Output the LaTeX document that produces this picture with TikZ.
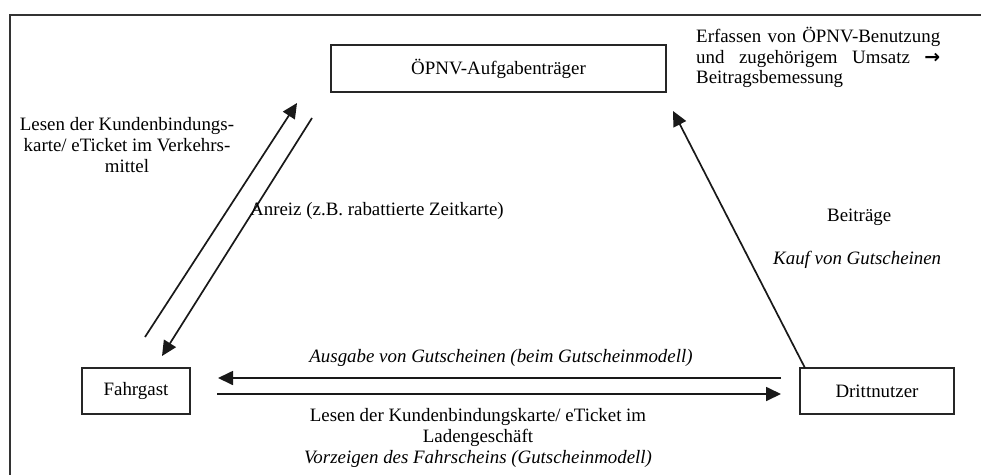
\documentclass[tikz,border=0pt]{standalone}
\usepackage{fontspec}
\setmainfont{Liberation Serif}
\newfontfamily\arrowfont{DejaVu Sans}
\usetikzlibrary{arrows.meta}
\begin{document}
\begin{tikzpicture}[x=1pt,y=-1pt,
  every node/.style={font=\fontsize{18.9}{20.6}\selectfont, inner sep=0pt},
  box/.style={draw, line width=1.8pt, draw=black!85},
  conn/.style={line width=1.7pt, draw=black!90},
  arr/.style={conn, -{Triangle[length=15pt,width=14pt]}},
  lbl/.style={align=center}]
\useasboundingbox (0,0) rectangle (981,474);
\draw[line width=1.8pt, draw=black!80] (10,15) rectangle (1000,520);
% nodes
\node[box, minimum width=335pt, minimum height=47pt] (oepnv) at (498.5,68.5) {ÖPNV-Aufgabenträger};
\node[box, minimum width=108pt, minimum height=46pt] (fahrgast) at (136,391) {Fahrgast};
\node[box, minimum width=154pt, minimum height=46pt] (dritt) at (877,391) {Drittnutzer};
% connector ends
\coordinate (a1s) at (145,337);
\coordinate (a1e) at (297,103);
\coordinate (a2s) at (312,118);
\coordinate (a2e) at (162,356);
\coordinate (a3s) at (805,368);
\coordinate (a3e) at (673,111);
\coordinate (a4s) at (781,378);
\coordinate (a4e) at (218,378);
\coordinate (a5s) at (217,394);
\coordinate (a5e) at (781,394);
\draw[arr] (a1s) -- (a1e);
\draw[arr] (a2s) -- (a2e);
\draw[arr] (a3s) -- (a3e);
\draw[arr] (a4s) -- (a4e);
\draw[arr] (a5s) -- (a5e);
% labels
\node[lbl] (t1) at (127,145) {Lesen der Kundenbindungs-\\karte/ eTicket im Verkehrs-\\mittel};
\node[anchor=west] (t2) at (250,211) {Anreiz (z.B. rabattierte Zeitkarte)};
\node[anchor=north west, align=left] (t3) at (696,27) {%
  \hbox to 244pt{Erfassen\hfill von\hfill ÖPNV-Benutzung}\\
  \hbox to 244pt{und\hfill zugehörigem\hfill Umsatz\hfill {\arrowfont\bfseries →}}\\
  Beitragsbemessung};
\node[anchor=west] (t4) at (827,217) {Beiträge};
\node[anchor=west, font=\fontsize{18.9}{20.6}\selectfont\itshape] (t5) at (773,260) {Kauf von Gutscheinen};
\node[font=\fontsize{18.9}{20.6}\selectfont\itshape] (t6) at (501,358) {Ausgabe von Gutscheinen (beim Gutscheinmodell)};
\node[lbl] (t7) at (478,438) {Lesen der Kundenbindungskarte/ eTicket im\\Ladengeschäft\\\textit{Vorzeigen des Fahrscheins (Gutscheinmodell)}};
\end{tikzpicture}
\end{document}
